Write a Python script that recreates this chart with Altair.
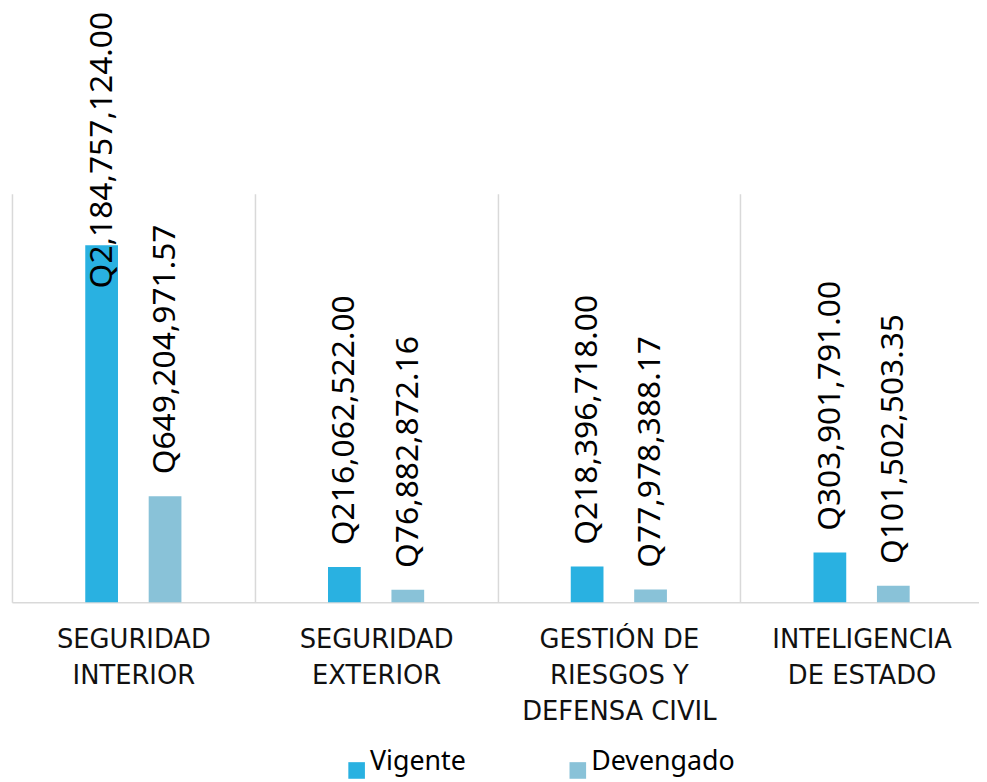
import altair as alt
import pandas as pd

CATEGORIES = [
    "SEGURIDAD\nINTERIOR",
    "SEGURIDAD\nEXTERIOR",
    "GESTIÓN DE\nRIESGOS Y\nDEFENSA CIVIL",
    "INTELIGENCIA\nDE ESTADO",
]
SERIES = ["Vigente", "Devengado"]
VIGENTE = [2184757124.00, 216062522.00, 218396718.00, 303901791.00]
DEVENGADO = [649204971.57, 76882872.16, 77978388.17, 101502503.35]
COLORS = ["#29B1E1", "#89C2D8"]
Y_MAX = 2.5e9
LABEL_CAP = 1.787e9  # labels that would leave the chart are pushed down (as in Excel)

rows = []
for c, v, d in zip(CATEGORIES, VIGENTE, DEVENGADO):
    rows.append({"categoria": c, "serie": SERIES[0], "monto": v})
    rows.append({"categoria": c, "serie": SERIES[1], "monto": d})
df = pd.DataFrame(rows)

x_enc = alt.X(
    "categoria:N",
    sort=CATEGORIES,
    scale=alt.Scale(paddingInner=0, paddingOuter=0),
    axis=alt.Axis(
        title=None,
        labelAngle=0,
        labelExpr="split(datum.label, '\\n')",
        grid=True,
        tickBand="extent",
        gridColor="#D9D9D9",
        gridWidth=1.5,
        ticks=False,
        domain=True,
        domainColor="#D9D9D9",
        domainWidth=1.5,
        labelFont="DejaVu Sans",
        labelFontSize=26,
        labelColor="#111111",
        labelPadding=25,
        labelLineHeight=36,
        labelBaseline="top",
        labelLimit=300,
        labelOverlap=False,
    ),
)
xoff_enc = alt.XOffset(
    "serie:N", sort=SERIES, scale=alt.Scale(paddingInner=0.173, paddingOuter=1)
)
y_scale = alt.Scale(domain=[0, Y_MAX])

bars = alt.Chart().mark_bar(width=33).encode(
    x=x_enc,
    xOffset=xoff_enc,
    y=alt.Y("monto:Q", scale=y_scale, axis=None),
    color=alt.Color(
        "serie:N",
        sort=SERIES,
        scale=alt.Scale(domain=SERIES, range=COLORS),
        legend=alt.Legend(
            title=None,
            orient="none",
            legendX=334,
            legendY=568,
            direction="horizontal",
            symbolType="square",
            symbolSize=280,
            symbolStrokeWidth=0,
            symbolOpacity=1,
            labelFont="Noto Sans",
            labelFontSize=27,
            labelBaseline="alphabetic",
            labelOffset=0,
            labelColor="#000000",
            columnPadding=99,
            padding=0,
        ),
    ),
)

labels = alt.Chart().transform_calculate(
    label="'Q' + format(datum.monto, ',.2f')",
    anchor=f"min(datum.monto, {LABEL_CAP})",
).mark_text(
    angle=270, align="left", baseline="middle", dx=22,
    font="Noto Sans", fontSize=32, color="#000000",
).encode(
    x=alt.X("categoria:N", sort=CATEGORIES),
    xOffset=alt.XOffset("serie:N", sort=SERIES),
    y=alt.Y("anchor:Q", scale=y_scale, axis=None),
    text="label:N",
)

# plot runs slightly past the window edge (as in the reference); negative right
# padding keeps the page itself within the window
chart = alt.layer(bars, labels, data=df).properties(
    width=979,
    height=412,
    padding={"left": 4, "top": 184, "right": -4, "bottom": 178},
    autosize=alt.AutoSizeParams(type="none"),
    background="white",
).configure_view(stroke=None)

chart.save("out.html", embed_options={"renderer": "svg", "actions": False})
